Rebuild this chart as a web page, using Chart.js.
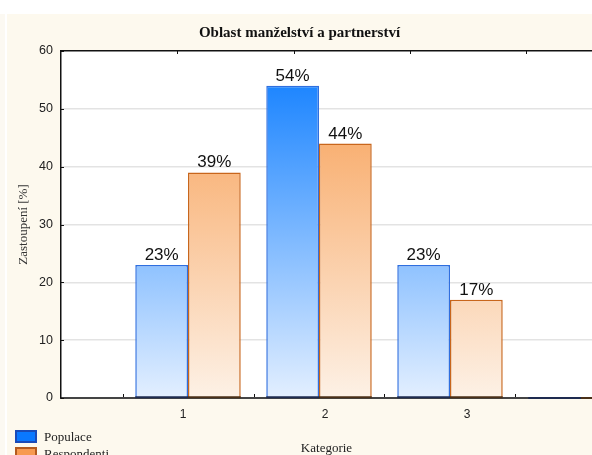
<!DOCTYPE html>
<html>
<head>
<meta charset="utf-8">
<title>Oblast manželství a partnerství</title>
<script src="https://cdn.jsdelivr.net/npm/chart.js@4.4.1/dist/chart.umd.min.js"></script>
<style>
  html, body { margin: 0; padding: 0; background: #ffffff; width: 592px; height: 455px; overflow: hidden; }
  #edge { position: absolute; left: 0; top: 14px; width: 5px; height: 441px; background: #fcf9f2; }
  #panel { position: absolute; left: 7px; top: 14px; width: 585px; height: 441px; background: #fdf9ee; overflow: hidden; }
  #chart { position: absolute; left: 0; top: 0; }
  #legend { position: absolute; left: 8px; top: 414px; font-family: "Liberation Serif", "Times New Roman", serif; font-size: 13px; color: #222; }
  .item { display: flex; align-items: center; height: 17px; }
  .swatch { width: 18px; height: 9px; border: 2px solid; margin-right: 7px; box-sizing: content-box; }
</style>
</head>
<body>
<div id="edge"></div>
<div id="panel">
  <canvas id="chart" width="585" height="441"></canvas>
  <div id="legend"></div>
</div>
<script>
// Categories on the horizontal axis (the 4th slot is empty)
const categories = [1, 2, 3, 4];
const categoryLabels = ['1', '2', '3'];
// Share in percent per category
const populace = [23, 54, 23, 0];
const respondenti = [39, 44, 17, 0];
// Value axis ticks
const yTicks = [0, 10, 20, 30, 40, 50, 60];

const SERIF = '"Liberation Serif", "Times New Roman", serif';
const SANS = '"Liberation Sans", Arial, Helvetica, sans-serif';

// Vertical fill running from the zero line to the top of the plot
function verticalGradient(chart, bottomColor, topColor) {
  const area = chart.chartArea;
  if (!area) return topColor;
  const g = chart.ctx.createLinearGradient(0, area.bottom, 0, area.top);
  g.addColorStop(0, bottomColor);
  g.addColorStop(1, topColor);
  return g;
}

const series = [
  { label: 'Populace', values: populace, low: '#e3efff', high: '#087aff', border: '#2f6fdf', base: '#1e2b4f', legendFill: '#0a78ff', legendBorder: '#1a4bb8' },
  { label: 'Respondenti', values: respondenti, low: '#fdf1e6', high: '#f7994a', border: '#c8661c', base: '#4a3018', legendFill: '#f79a50', legendBorder: '#b45a1e' }
];

const datasets = series.map(s => ({
  label: s.label,
  data: categories.map((c, i) => ({ x: c, y: s.values[i] })),
  backgroundColor: ctx => verticalGradient(ctx.chart, s.low, s.high),
  borderColor: s.border,
  borderWidth: 1.5,
  borderSkipped: 'start',
  categoryPercentage: 0.805,
  barPercentage: 1,
  baseColor: s.base
}));

// White plotting area on the cream panel
const plotBackground = {
  id: 'plotBackground',
  beforeDraw(chart) {
    const { ctx, chartArea: a } = chart;
    ctx.save();
    ctx.fillStyle = '#ffffff';
    ctx.fillRect(a.left, a.top, a.right - a.left, a.bottom - a.top);
    ctx.restore();
  }
};

// Dark bottom edge of every bar along the zero line, and percent labels on top
const barDecor = {
  id: 'barDecor',
  afterDatasetsDraw(chart) {
    const { ctx } = chart;
    ctx.save();
    chart.data.datasets.forEach((ds, di) => {
      const meta = chart.getDatasetMeta(di);
      meta.data.forEach((el, i) => {
        const half = el.width / 2;
        ctx.strokeStyle = ds.baseColor;
        ctx.lineWidth = 2;
        ctx.beginPath();
        ctx.moveTo(el.x - half, el.base);
        ctx.lineTo(el.x + half, el.base);
        ctx.stroke();
        const v = ds.data[i].y;
        if (v > 0) {
          ctx.fillStyle = '#111';
          ctx.font = '17px ' + SANS;
          ctx.textAlign = 'center';
          ctx.textBaseline = 'alphabetic';
          ctx.fillText(v + '%', el.x, el.y - 5);
        }
      });
    });
    ctx.restore();
  }
};

// Short tick marks pointing into the plot
const innerTicks = {
  id: 'innerTicks',
  afterDraw(chart) {
    const { ctx, chartArea: a, scales } = chart;
    ctx.save();
    ctx.strokeStyle = '#111';
    ctx.lineWidth = 1;
    ctx.beginPath();
    scales.y.ticks.forEach(t => {
      const y = Math.round(scales.y.getPixelForValue(t.value)) + 0.5;
      ctx.moveTo(a.left, y); ctx.lineTo(a.left + 3, y);
    });
    categories.forEach(c => {
      const x = Math.round(scales.x.getPixelForValue(c - 0.5)) + 0.5;
      ctx.moveTo(x, a.bottom - 1); ctx.lineTo(x, a.bottom - 4);
    });
    scales.xTop.ticks.forEach(t => {
      const x = Math.round(scales.xTop.getPixelForValue(t.value)) + 0.5;
      ctx.moveTo(x, a.top); ctx.lineTo(x, a.top + 3);
    });
    ctx.stroke();
    ctx.restore();
  }
};

const chart = new Chart(document.getElementById('chart'), {
  type: 'bar',
  data: { datasets },
  plugins: [plotBackground, barDecor, innerTicks],
  options: {
    responsive: false,
    animation: false,
    devicePixelRatio: 1,
    layout: { padding: 0 },
    plugins: {
      legend: { display: false },
      tooltip: { enabled: false },
      title: {
        display: true,
        text: 'Oblast manželství a partnerství',
        color: '#111',
        font: { family: SERIF, size: 15, weight: 'bold', lineHeight: 1.2 },
        padding: { top: 10, bottom: 9 }
      }
    },
    scales: {
      x: {
        type: 'linear',
        display: false,
        offset: false,
        min: 0.0305,
        max: 4.084,
        afterBuildTicks: s => { s.ticks = categories.map(v => ({ value: v })); }
      },
      xTop: {
        type: 'linear',
        position: 'top',
        offset: false,
        min: 0,
        max: 4.566,
        afterBuildTicks: s => { s.ticks = categories.map(v => ({ value: v })); },
        afterFit: s => { s.height = 0; },
        ticks: { display: false },
        grid: { display: false, drawTicks: false },
        border: { display: true, color: '#111', width: 1.5 }
      },
      xLabels: {
        type: 'linear',
        position: 'bottom',
        offset: false,
        min: 0.141,
        max: 3.880,
        afterBuildTicks: s => { s.ticks = categoryLabels.map((_, i) => ({ value: categories[i] })); },
        afterFit: s => { s.height = 57; },
        ticks: {
          autoSkip: false,
          maxRotation: 0,
          padding: 9.5,
          color: '#222',
          font: { family: SANS, size: 12 },
          callback: v => categoryLabels[categories.indexOf(v)]
        },
        grid: { display: false, drawTicks: false },
        border: { display: true, color: '#444', width: 2 },
        title: {
          display: true,
          text: 'Kategorie',
          color: '#222',
          font: { family: SERIF, size: 13, lineHeight: 1 },
          padding: 0
        }
      },
      y: {
        min: 0,
        max: 60,
        afterBuildTicks: s => { s.ticks = yTicks.map(v => ({ value: v })); },
        afterFit: s => { s.width = 54; },
        ticks: { padding: 8, color: '#222', font: { family: SANS, size: 12.5 } },
        grid: {
          drawTicks: false,
          lineWidth: 1.5,
          color: c => (c.tick && (c.tick.value === 0 || c.tick.value === 60)) ? 'rgba(0,0,0,0)' : '#e3e3e3'
        },
        border: { display: true, color: '#111', width: 1.5 },
        title: {
          display: true,
          text: 'Zastoupení [%]',
          color: '#333',
          font: { family: SERIF, size: 13, lineHeight: 1.2 },
          padding: { top: 8.3, bottom: 0 }
        }
      }
    }
  }
});

// Legend stacked at the lower left
const legend = document.getElementById('legend');
series.forEach(s => {
  const item = document.createElement('div');
  item.className = 'item';
  const sw = document.createElement('span');
  sw.className = 'swatch';
  sw.style.background = s.legendFill;
  sw.style.borderColor = s.legendBorder;
  const txt = document.createElement('span');
  txt.textContent = s.label;
  item.appendChild(sw);
  item.appendChild(txt);
  legend.appendChild(item);
});
</script>
</body>
</html>
